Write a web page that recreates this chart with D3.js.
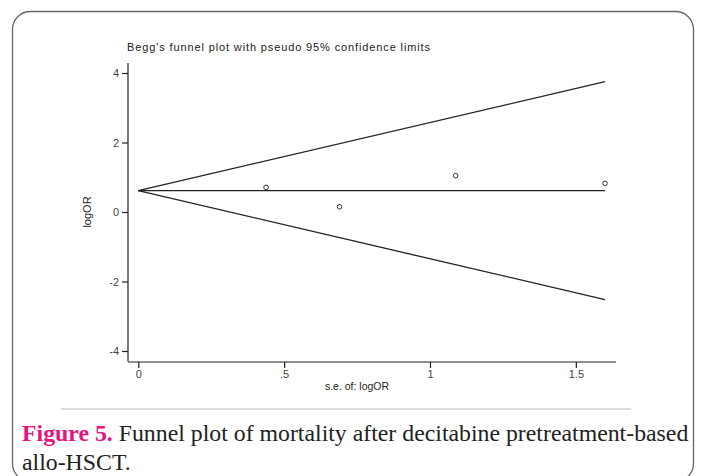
<!DOCTYPE html>
<html>
<head>
<meta charset="utf-8">
<script src="https://cdn.jsdelivr.net/npm/d3@7"></script>
<style>
  body { margin: 0; background: #fff; }
</style>
</head>
<body>
<div id="chart"></div>
<script>
// study points
const seVals = [0.438, 0.69, 1.088, 1.6];
const logOR = [0.71, 0.15, 1.045, 0.826];

// pooled estimate and pseudo 95% limits at se = 0 and se = max
const limitSe = [0, 1.6];
const pooled = [0.613, 0.613];
const upper = [0.613, 3.75];
const lower = [0.613, -2.52];

const xTicks = [0, 0.5, 1, 1.5];
const xTickLabels = ["0", ".5", "1", "1.5"];
const yTicks = [-4, -2, 0, 2, 4];

const width = 701,
      height = 476;

const svg = d3.select("#chart")
    .append("svg")
    .attr("width", width)
    .attr("height", height);

// outer frame
svg.append("rect")
    .attr("x", 12.5).attr("y", 11.5)
    .attr("width", 681).attr("height", 470)
    .attr("rx", 18)
    .attr("fill", "none")
    .attr("stroke", "#666")
    .attr("stroke-width", 1.3);

const x = d3.scaleLinear()
    .domain([0, 1])
    .range([138.3, 430]);

const y = d3.scaleLinear()
    .domain([0, 4])
    .range([212, 73]);

const axisColor = "#222";

// y axis
const yAxis = svg.append("g")
    .attr("transform", "translate(128,0)")
    .call(d3.axisLeft(y).tickValues(yTicks).tickSize(6).tickPadding(3).tickFormat(d => String(d)));
yAxis.select(".domain").attr("d", `M0,63V${y(-4) + 10.5}`);

// x axis
const xAxis = svg.append("g")
    .attr("transform", "translate(0,362)")
    .call(d3.axisBottom(x).tickValues(xTicks).tickSize(6).tickPadding(2)
        .tickFormat((d, i) => xTickLabels[i]));
xAxis.select(".domain").attr("d", "M128,0H616");

svg.selectAll(".domain, .tick line")
    .attr("stroke", axisColor)
    .attr("stroke-width", 1.2);
svg.selectAll(".tick text")
    .attr("fill", "#444")
    .attr("font-family", "Liberation Sans, Arial, sans-serif")
    .attr("font-size", 11);

// axis titles
svg.append("text")
    .attr("transform", `translate(91,${y(0)}) rotate(-90)`)
    .attr("text-anchor", "middle")
    .attr("font-family", "Liberation Sans, Arial, sans-serif")
    .attr("font-size", 11)
    .attr("fill", "#222")
    .text("logOR");

svg.append("text")
    .attr("x", 357).attr("y", 390)
    .attr("text-anchor", "middle")
    .attr("font-family", "Liberation Sans, Arial, sans-serif")
    .attr("font-size", 10.5)
    .attr("fill", "#222")
    .text("s.e. of: logOR");

// chart title
svg.append("text")
    .attr("x", 127).attr("y", 51)
    .attr("font-family", "Liberation Sans, Arial, sans-serif")
    .attr("font-size", 11)
    .attr("textLength", 303)
    .attr("lengthAdjust", "spacing")
    .attr("fill", "#222")
    .text("Begg's funnel plot with pseudo 95% confidence limits");

// funnel lines
const line = d3.line()
    .x(d => x(d[0]))
    .y(d => y(d[1]));

for (const series of [pooled, upper, lower]) {
    svg.append("path")
        .datum(limitSe.map((s, i) => [s, series[i]]))
        .attr("d", line)
        .attr("fill", "none")
        .attr("stroke", "#222")
        .attr("stroke-width", 1.3);
}

// study points
svg.selectAll(".pt")
    .data(seVals.map((s, i) => [s, logOR[i]]))
    .join("circle")
    .attr("class", "pt")
    .attr("cx", d => x(d[0]))
    .attr("cy", d => y(d[1]))
    .attr("r", 2.3)
    .attr("fill", "none")
    .attr("stroke", "#333")
    .attr("stroke-width", 1);

// separator and caption
svg.append("line")
    .attr("x1", 61).attr("x2", 631)
    .attr("y1", 409).attr("y2", 409)
    .attr("stroke", "#bbb")
    .attr("stroke-width", 1);

const cap = svg.append("text")
    .attr("x", 22).attr("y", 441)
    .attr("font-family", "Liberation Serif, Times New Roman, serif")
    .attr("font-size", 23.8)
    .attr("fill", "#222");
cap.append("tspan")
    .attr("font-weight", "bold")
    .attr("fill", "#e4157e")
    .text("Figure 5.");
cap.append("tspan").text(" Funnel plot of mortality after decitabine pretreatment-based");

svg.append("text")
    .attr("x", 22).attr("y", 470)
    .attr("font-family", "Liberation Serif, Times New Roman, serif")
    .attr("font-size", 23.8)
    .attr("fill", "#222")
    .text("allo-HSCT.");
</script>
</body>
</html>
